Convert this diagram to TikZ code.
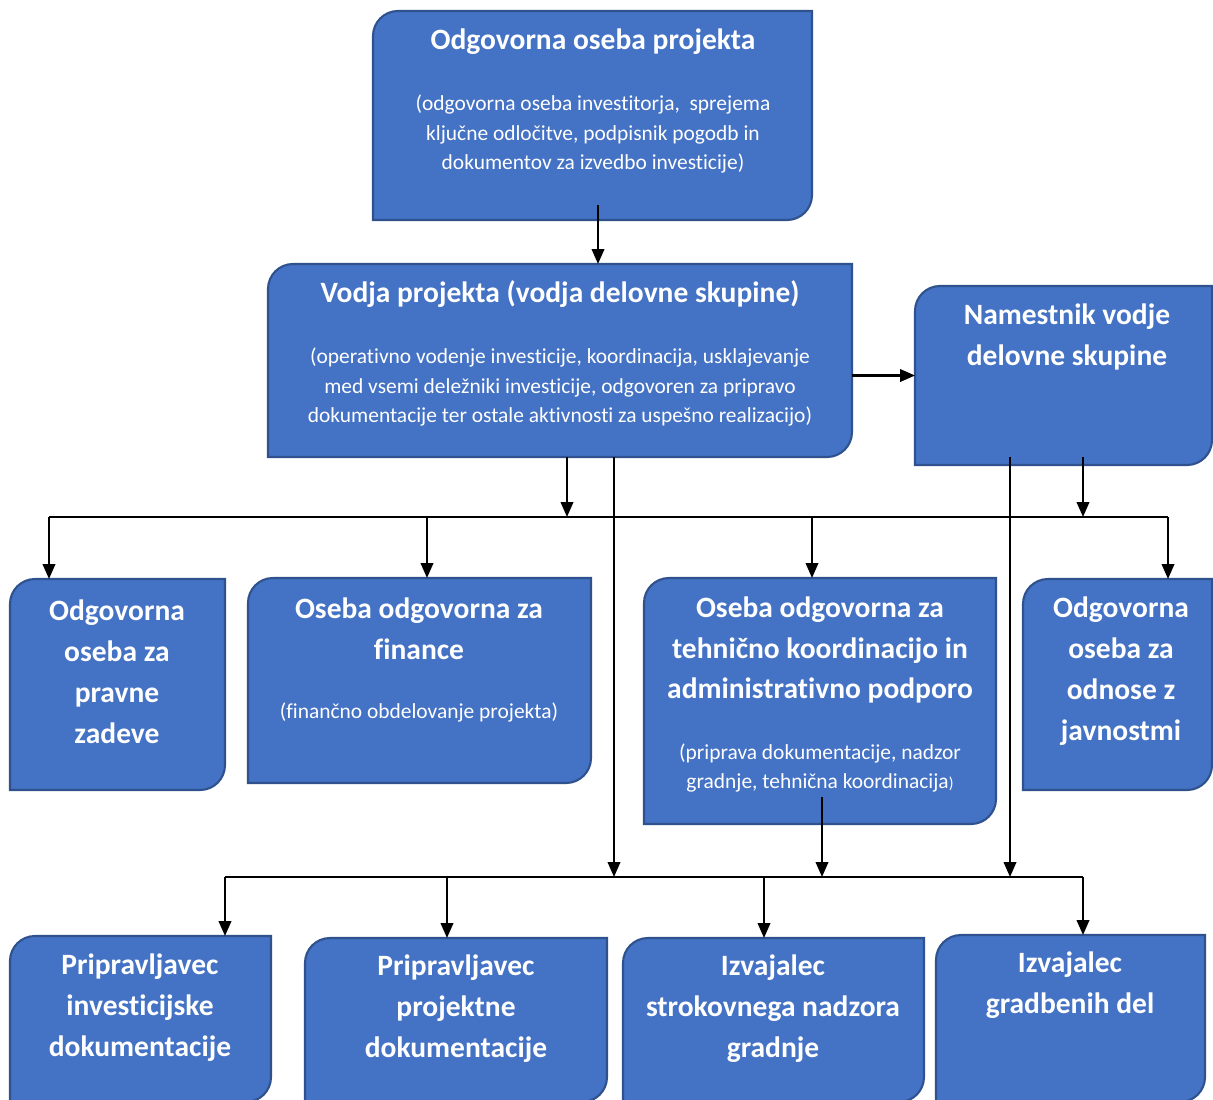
\documentclass[tikz,border=0pt]{standalone}
\usepackage{fontspec}
\setmainfont{Carlito}[Ligatures=CommonOff]
\usepackage{tikz}
\usetikzlibrary{arrows.meta, positioning, calc, fit}
\definecolor{cBox}{RGB}{68,114,196}
\definecolor{cEdge}{RGB}{47,82,143}
\tikzset{
	boxarea/.style  ={rectangle, inner sep=0pt, outer sep=0pt},
	boxline/.style  ={draw=cEdge, line width=1.2pt, fill=cBox},
	ttl/.style      ={text=white, align=center, inner sep=0pt, font=\bfseries\fontsize{16.8}{23.3}\selectfont},
	sub/.style      ={text=white, align=center, inner sep=0pt, font=\fontsize{12.2}{17}\selectfont},
	flowarrow/.style={-{Triangle[length=0.3cm, width=0.25cm]}, line width=1.3pt},
	busline/.style  ={line width=1.3pt},
}
\newcommand{\boxrad}{0.5cm}
% box with round top-left and bottom-right corners
\newcommand{\orgbox}[3]{%
	\node[boxarea, fit={#2 #3}] (#1) {};
	\draw[boxline] ([yshift=-\boxrad]#1.north west) arc[start angle=180, end angle=90, radius=\boxrad] -- (#1.north east) -- ([yshift=\boxrad]#1.south east) arc[start angle=0, end angle=-90, radius=\boxrad] -- (#1.south west) -- cycle;
}

\begin{document}
\begin{tikzpicture}[x=0.02cm, y=-0.02cm]
	\useasboundingbox (0,0) rectangle (1213,1099);
	\fill[white] (0,0) rectangle (1213,1099);
	\clip (0,0) rectangle (1213,1099);

	\orgbox{odg}{(373,11)}{(812,220)}
	\orgbox{vodja}{(268,264)}{(852,457)}
	\orgbox{nam}{(915,286)}{(1212,465)}
	\orgbox{prav}{(10,579)}{(225,790)}
	\orgbox{fin}{(248,578)}{(591,783)}
	\orgbox{teh}{(644,578)}{(996,824)}
	\orgbox{jav}{(1023,579)}{(1212,790)}
	\orgbox{inv}{(10,936)}{(271,1102)}
	\orgbox{pd}{(305,938)}{(607,1102)}
	\orgbox{nad}{(623,938)}{(924,1102)}
	\orgbox{gd}{(936,935)}{(1205,1102)}

	\node[ttl] (odgT) at (593,42) {Odgovorna oseba projekta};
	\node[sub] (odgS) at (593,134) {(odgovorna oseba investitorja,~ sprejema\\ključne odločitve, podpisnik pogodb in\\dokumentov za izvedbo investicije)};
	\node[ttl] (vodT) at (560,294) {Vodja projekta (vodja delovne skupine)};
	\node[sub] (vodS) at (560,387) {(operativno vodenje investicije, koordinacija, usklajevanje\\med vsemi deležniki investicije, odgovoren za pripravo\\dokumentacije ter ostale aktivnosti za uspešno realizacijo)};
	\node[ttl] (namT) at (1067,336.5) {Namestnik vodje\\delovne skupine};
	\node[ttl] (pravT) at (117,671.5) {Odgovorna\\oseba za\\pravne\\zadeve};
	\node[ttl] (finT) at (419,629) {Oseba odgovorna za\\finance};
	\node[sub] (finS) at (419,712) {(finančno obdelovanje projekta)};
	\node[ttl] (tehT) at (820,650) {Oseba odgovorna za\\tehnično koordinacijo in\\administrativno podporo};
	\node[sub] (tehS) at (820,768) {(priprava dokumentacije, nadzor\\gradnje, tehnična koordinacija{\fontsize{9}{10}\selectfont)}};
	\node[ttl] (javT) at (1121,671.5) {Odgovorna\\oseba za\\odnose z\\javnostmi};
	\node[ttl] (invT) at (140,1008) {Pripravljavec\\investicijske\\dokumentacije};
	\node[ttl] (pdT) at (456,1009) {Pripravljavec\\projektne\\dokumentacije};
	\node[ttl] (nadT) at (773,1009) {Izvajalec\\strokovnega nadzora\\gradnje};
	\node[ttl] (gdT) at (1070,985.5) {Izvajalec\\gradbenih del};

	% leader chain
	\coordinate (o1) at ($(odg.south)+(5.5,-15)$);
	\draw[flowarrow] (o1) -- (o1 |- vodja.north);
	\draw[flowarrow] (vodja.east |- nam.west) -- (nam.west);

	% first bus
	\coordinate (v1) at ($(vodja.south)+(7,0)$); \coordinate (v2) at ($(vodja.south)+(54,0)$);
	\coordinate (n1) at ($(nam.south)+(19.5,-8)$); \coordinate (n2) at ($(nam.south)+(-53.5,-8)$);
	\coordinate (p1) at (49,517); \coordinate (p2) at (427,517); \coordinate (p3) at (812,517); \coordinate (p4) at (1168,517);
	\draw[busline] (p1) -- (p4);
	\draw[flowarrow] (v1) -- (v1 |- p1); \draw[flowarrow] (n1) -- (n1 |- p1);
	\draw[flowarrow] (p1) -- (p1 |- prav.north); \draw[flowarrow] (p2) -- (p2 |- fin.north);
	\draw[flowarrow] (p3) -- (p3 |- teh.north); \draw[flowarrow] (p4) -- (p4 |- jav.north);

	% second bus
	\coordinate (t1) at ($(teh.south)+(2,-27)$);
	\coordinate (q1) at (225,877); \coordinate (q2) at (447,877); \coordinate (q3) at (764,877); \coordinate (q4) at (1083,877);
	\draw[busline] (q1) -- (q4);
	\draw[flowarrow] (v2) -- (v2 |- q1); \draw[flowarrow] (n2) -- (n2 |- q1); \draw[flowarrow] (t1) -- (t1 |- q1);
	\draw[flowarrow] (q1) -- (q1 |- inv.north); \draw[flowarrow] (q2) -- (q2 |- pd.north);
	\draw[flowarrow] (q3) -- (q3 |- nad.north); \draw[flowarrow] (q4) -- (q4 |- gd.north);
\end{tikzpicture}
\end{document}
